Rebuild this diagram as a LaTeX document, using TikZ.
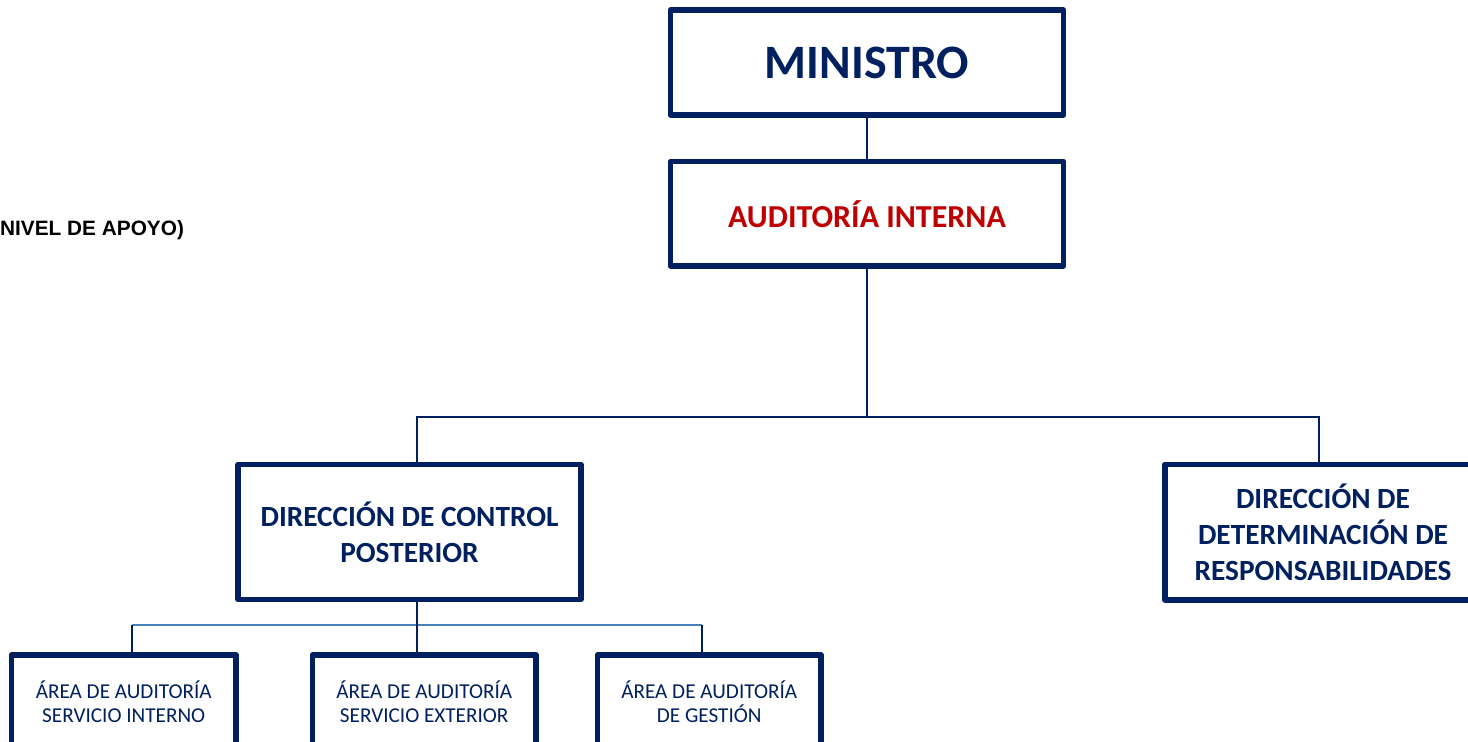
\documentclass[tikz,border=0pt]{standalone}
\usepackage{fontspec}
\setmainfont{Carlito}
\newfontfamily\arialf{Liberation Sans}
\definecolor{navy}{RGB}{0,32,96}
\definecolor{redt}{RGB}{192,0,0}
\definecolor{busblue}{RGB}{74,126,187}
\begin{document}
\begin{tikzpicture}[x=1pt,y=-1pt,
  box/.style={draw=navy, line width=5.5pt, line join=round, fill=white, inner sep=0pt, align=center, text=navy},
  conn/.style={draw=navy, line width=2pt},
  bus/.style={draw=busblue, line width=2pt},
  bigf/.style={font=\bfseries\fontsize{48}{58}\selectfont},
  midf/.style={font=\bfseries\fontsize{32}{38}\selectfont},
  dirf/.style={font=\bfseries\fontsize{29.3}{36}\selectfont},
  subf/.style={font=\fontsize{21.2}{24.5}\selectfont}]
\useasboundingbox (0,0) rectangle (1468,742);

\node[box, bigf, minimum width=393pt, minimum height=105pt] (min) at (867,62.5) {MINISTRO};
\node[box, midf, text=redt, minimum width=393pt, minimum height=104.5pt] (aud) at (867,213.75) {AUDITORÍA INTERNA};
\node[box, dirf, minimum width=343pt, minimum height=135pt] (dcp) at (409.5,532) {DIRECCIÓN DE CONTROL\\POSTERIOR};
\node[box, dirf, minimum width=316pt, minimum height=135.5pt] (ddr) at (1323,532) {DIRECCIÓN DE\\DETERMINACIÓN DE\\RESPONSABILIDADES};
\node[box, subf, minimum width=224.5pt, minimum height=93pt] (s1) at (123.75,701.5) {ÁREA DE AUDITORÍA\\SERVICIO INTERNO};
\node[box, subf, minimum width=223.5pt, minimum height=93pt] (s2) at (424.25,701.5) {ÁREA DE AUDITORÍA\\SERVICIO EXTERIOR};
\node[box, subf, minimum width=223.5pt, minimum height=93pt] (s3) at (709.25,701.5) {ÁREA DE AUDITORÍA\\DE GESTIÓN};

\node[anchor=base west, inner sep=0pt, font=\arialf\bfseries\fontsize{20.8}{24}\selectfont] (nivel) at (0,235) {NIVEL DE APOYO)};

\coordinate (jtop) at (867,417);
\coordinate (jl) at (417,417);
\coordinate (jr) at (1319,417);
\coordinate (bm) at (417,625);
\coordinate (bl) at (132,625);
\coordinate (br) at (702,625);

\draw[conn] (min.south) -- (aud.north);
\draw[conn] (aud.south) -- (jtop);
\draw[conn] (dcp.north -| jl) -- (jl) -- (jr) -- (ddr.north -| jr);
\draw[bus] (bl) -- (br);
\draw[conn] (dcp.south -| bm) -- (s2.north -| bm);
\draw[conn] (bl) -- (s1.north -| bl);
\draw[conn] (br) -- (s3.north -| br);
\end{tikzpicture}
\end{document}
